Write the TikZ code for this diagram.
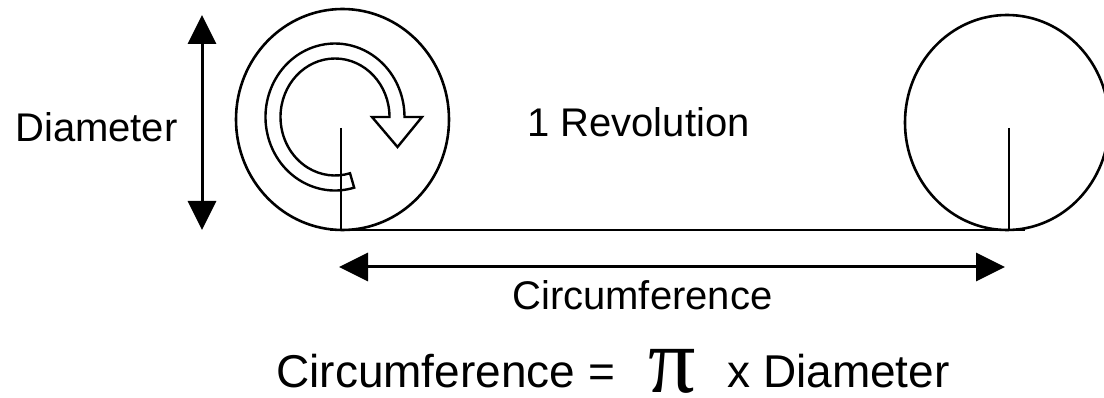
\documentclass[tikz,border=0pt]{standalone}
\usepackage{fontspec}
\setmainfont{Liberation Sans}
\newfontfamily\pifont{Liberation Serif}
\usetikzlibrary{arrows.meta}
\begin{document}
\begin{tikzpicture}[x=1pt,y=-1pt,line width=2.6pt,
  lbl/.style={inner sep=0pt,anchor=base west,font=\fontsize{40}{48}\selectfont},
  big/.style={inner sep=0pt,anchor=base west,font=\fontsize{46}{55}\selectfont},
  pisym/.style={inner sep=0pt,anchor=base west,text depth=0pt,font=\pifont\fontsize{94}{100}\selectfont},
  dimarrow/.style={{Triangle[length=29pt,width=28pt]}-{Triangle[length=29pt,width=28pt]},line width=3pt},
  wheel/.style={draw,line width=2.6pt},
  turnarrow/.style={draw,line width=2.4pt,line join=miter,fill=white}
]
\fill[white] (0,0) rectangle (1104,398);
\useasboundingbox (0,0) rectangle (1104,398);

% wheels
\draw[wheel] (342.5,119.5) ellipse [x radius=106.5, y radius=110.5];
\draw[wheel] (1007,122.5) ellipse [x radius=102, y radius=107.5];

% ground line and spokes
\coordinate (g1) at (330,230);
\coordinate (g2) at (1025,230);
\draw (g1) -- (g2);
\coordinate (s1top) at (341,128);
\coordinate (s1bot) at (341,230);
\coordinate (s2top) at (1009,128);
\coordinate (s2bot) at (1009,230);

% hollow turning arrow
\draw[turnarrow] (335,117) ++(74:69.5 and 73.5)
  arc[start angle=74,end angle=360,x radius=69.5,y radius=73.5]
  -- (422,117) -- (397.5,147) -- (372,117) -- (389.5,117)
  arc[start angle=360,end angle=74,x radius=54.5,y radius=58.5] -- cycle;

\draw (s1top) -- (s1bot);
\draw (s2top) -- (s2bot);

% dimension arrows
\coordinate (dtop) at (202,15);
\coordinate (dbot) at (202,230);
\draw[dimarrow] (dtop) -- (dbot);
\coordinate (cleft) at (339,267);
\coordinate (cright) at (1005,267);
\draw[dimarrow] (cleft) -- (cright);

% labels
\node[lbl] (diam) at (14,142) {Diameter};
\node[lbl] (rev) at (526,137) {1 Revolution};
\node[lbl] (circ) at (511,310) {Circumference};
\node[big] (formula) at (275,388) {Circumference =};
\node[pisym] (pi) at (647,392) {π};
\node[big] (xdiam) at (726,388) {x Diameter};
\end{tikzpicture}
\end{document}
